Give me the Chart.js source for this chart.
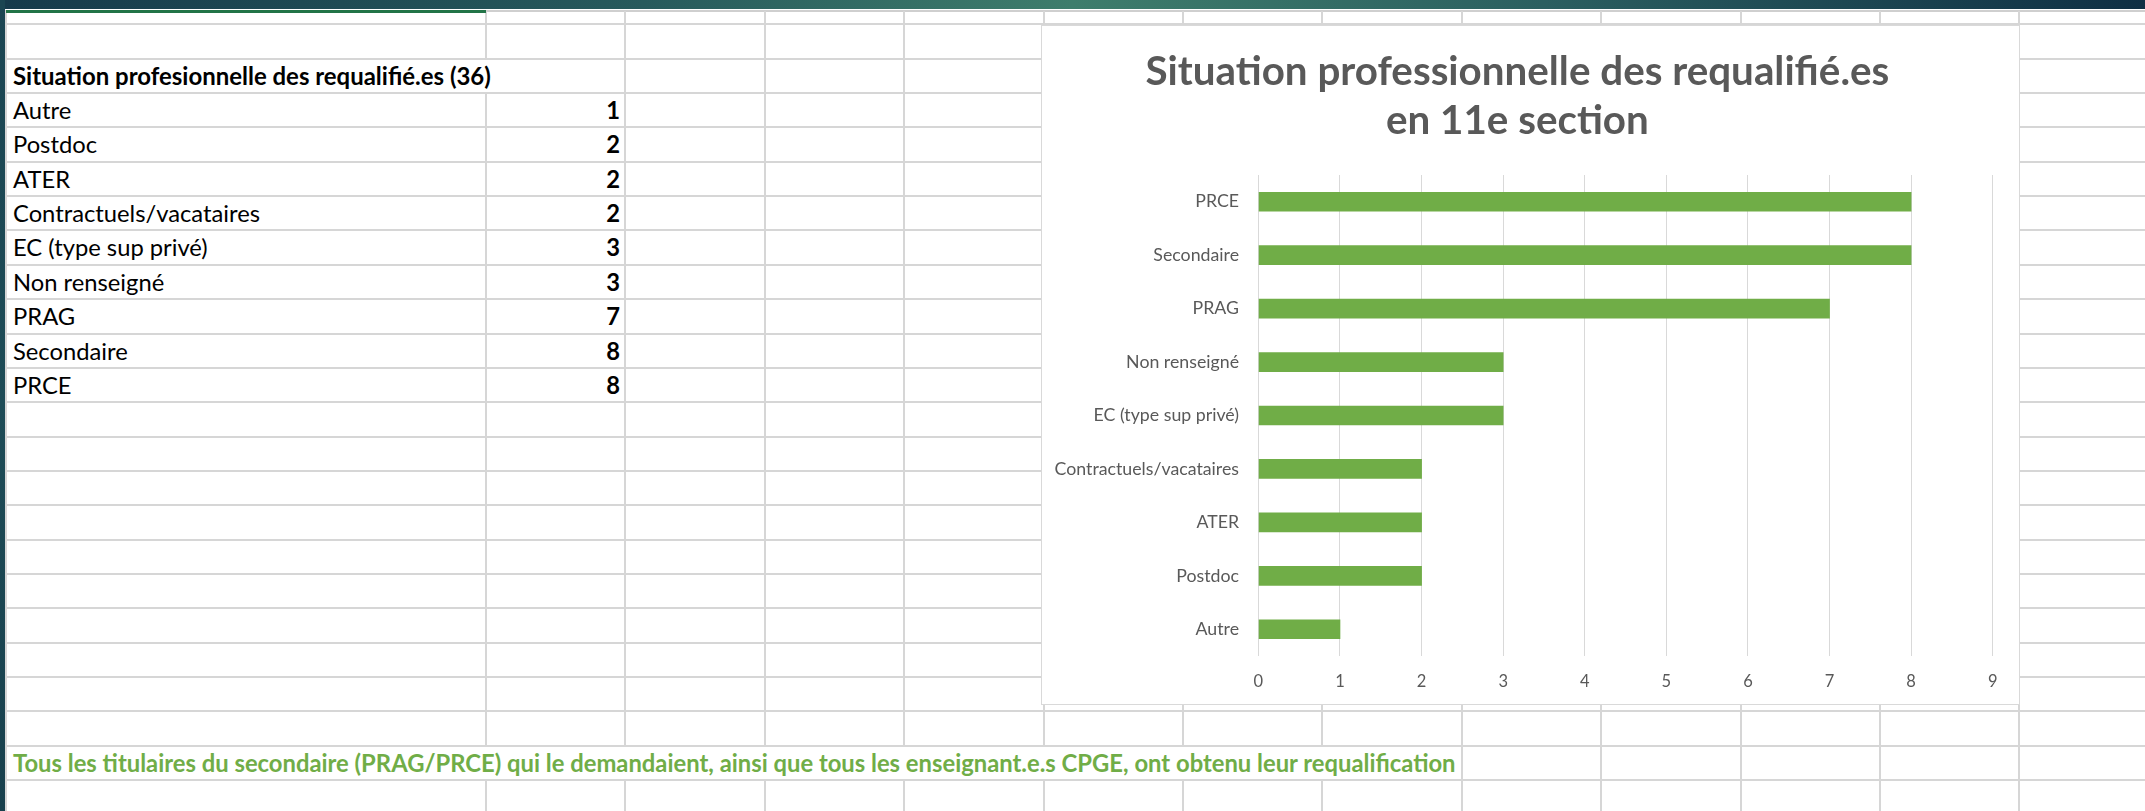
<!DOCTYPE html>
<html><head><meta charset="utf-8">
<script src="https://cdn.jsdelivr.net/npm/chart.js@4.4.1/dist/chart.umd.min.js"></script>
<style>
html,body{margin:0;padding:0;}
body{width:2145px;height:811px;overflow:hidden;background:#fff;position:relative;font-family:Lato,sans-serif;}
.abs{position:absolute;}
#band{left:0;top:0;width:2145px;height:9px;background:linear-gradient(to right,#163a4b 0%,#275a5c 30%,#3e7d6c 50%,#2b5f60 72%,#0f2f44 100%);z-index:5;}
#lstrip{left:0;top:0;width:5px;height:811px;background:linear-gradient(to bottom,#1b4552,#1e4c57 50%,#18404d);z-index:5;}
.h{height:2px;background:#d6d6d6;}
.v{width:2px;background:#d6d6d6;}
.cell{white-space:nowrap;color:#000;}
#chartBox{left:1041px;top:25px;width:977px;height:678px;border:1px solid #d9d9d9;background:#fff;z-index:3;}
#c{display:block;}
</style></head><body>
<div id="band" class="abs"></div>
<div id="lstrip" class="abs"></div>
<div id="grid"></div>
<div id="cells"></div>
<div id="chartBox" class="abs"><canvas id="c" width="977" height="678"></canvas></div>
<script>
// ---- data ----
const categories = ['Autre','Postdoc','ATER','Contractuels/vacataires','EC (type sup privé)','Non renseigné','PRAG','Secondaire','PRCE'];
const values = [1,2,2,2,3,3,7,8,8];
const xTickValues = [0,1,2,3,4,5,6,7,8,9];
const tableTitle = 'Situation profesionnelle des requalifié.es (36)';
const chartTitle = ['Situation professionnelle des requalifié.es','en 11e section'];
const note = 'Tous les titulaires du secondaire (PRAG/PRCE) qui le demandaient, ainsi que tous les enseignant.e.s CPGE, ont obtenu leur requalification';

// ---- layout helpers ----
const ROW0 = 24.35, RH = 34.35, COLX0 = 486, CW = 139.4;
const rowTop = k => ROW0 + k * RH;
const mctx = document.createElement('canvas').getContext('2d');
function fit(text, weight, family, width){
  mctx.font = weight + ' 100px ' + family;
  return 100 * width / mctx.measureText(text).width;
}
function div(cls, css, txt){
  const d = document.createElement('div');
  d.className = 'abs ' + cls;
  Object.assign(d.style, css);
  if (txt !== undefined) d.textContent = txt;
  return d;
}

// ---- spreadsheet grid ----
const grid = document.getElementById('grid');
grid.appendChild(div('h', {left:'5px', top:'10px', width:'2140px', background:'#cfcfcf'}));
grid.appendChild(div('', {left:'6px', top:'10px', width:'480px', height:'2.5px', background:'#227447', zIndex:2}));
for (let k = 0; k <= 23; k++){
  grid.appendChild(div('h', {left:'5px', top:(rowTop(k)-1)+'px', width:'2140px'}));
}
const colXs = [6];
for (let j = 0; j <= 12; j++) colXs.push(COLX0 + j * CW);
for (let k = -1; k <= 22; k++){
  const y0 = k < 0 ? 11 : rowTop(k);
  const y1 = k < 0 ? rowTop(0) : rowTop(k+1);
  colXs.forEach((x, idx) => {
    const j = idx - 1;
    if (k === 1 && j === 0) return;
    if (k === 21 && j >= 0 && j <= 6) return;
    grid.appendChild(div('v', {left:(x-1)+'px', top:y0+'px', height:(y1-y0)+'px'}));
  });
}

// ---- table cells ----
const cells = document.getElementById('cells');
const tSize = fit('Contractuels/vacataires', 'normal', 'Lato', 247);
const hSize = fit(tableTitle, 'bold', 'Lato', 478);
const nSize = fit(note, 'bold', 'Lato', 1444);
function cellCss(k, extra){
  return Object.assign({top:rowTop(k)+'px', height:RH+'px', lineHeight:RH+'px', zIndex:2}, extra);
}
cells.appendChild(div('cell', cellCss(1, {left:'13px', fontWeight:'bold', fontSize:hSize+'px'}), tableTitle));
categories.forEach((c, i) => {
  cells.appendChild(div('cell', cellCss(2+i, {left:'13px', fontSize:tSize+'px'}), c));
  cells.appendChild(div('cell', cellCss(2+i, {left:'486px', width:'134px', textAlign:'right', fontWeight:'bold', fontSize:tSize+'px'}), String(values[i])));
});
cells.appendChild(div('cell', cellCss(21, {left:'13px', fontWeight:'bold', fontSize:nSize+'px', color:'#70AD47'}), note));

// ---- chart ----
const F = 'Lato';
const yLabelSize = fit('Contractuels/vacataires', 'normal', F, 184.5);
const titleSize = fit(chartTitle[0], 'bold', F, 744);
new Chart(document.getElementById('c'), {
  type: 'bar',
  data: {
    labels: categories,
    datasets: [{ data: values, backgroundColor: '#70AD47', borderWidth: 0, barThickness: 19 }]
  },
  options: {
    indexAxis: 'y',
    responsive: false,
    animation: false,
    devicePixelRatio: 1,
    layout: { padding: { left: 0, right: 26.3, top: 0, bottom: 0 } },
    plugins: {
      legend: { display: false },
      tooltip: { enabled: false },
      title: {
        display: true, text: chartTitle, color: '#595959',
        font: { family: F, weight: 'bold', size: titleSize, lineHeight: 49 / titleSize },
        padding: { top: 21.5, bottom: 29.5 }
      }
    },
    scales: {
      x: {
        min: 0, max: 9,
        afterBuildTicks: s => { s.ticks = xTickValues.map(v => ({ value: v })); },
        ticks: { color: '#595959', font: { family: F, size: 16.5 }, padding: 16 },
        grid: { color: '#d9d9d9', lineWidth: 1, drawTicks: false },
        border: { display: false },
        afterFit: s => { s.height = 48; }
      },
      y: {
        reverse: true,
        ticks: { color: '#595959', font: { family: F, size: yLabelSize }, padding: 19.4 },
        grid: { display: false, drawTicks: false },
        border: { display: false },
        afterFit: s => { s.width = 216.4; }
      }
    }
  }
});
</script>
</body></html>
